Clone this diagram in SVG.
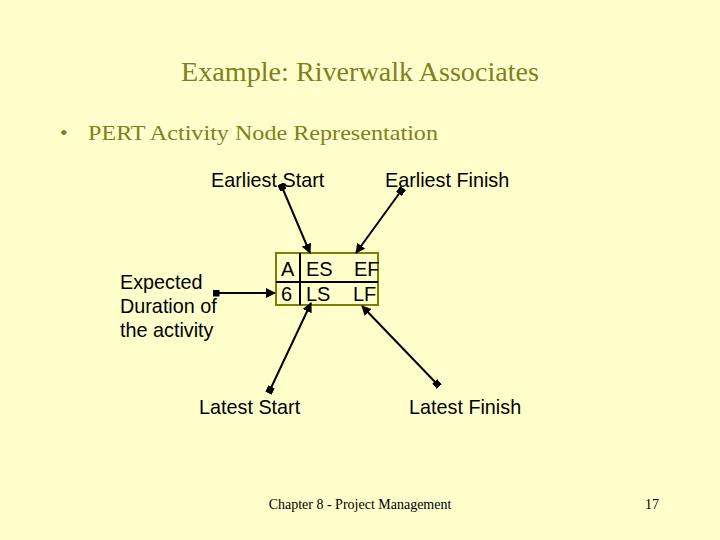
<svg xmlns="http://www.w3.org/2000/svg" width="720" height="540" viewBox="0 0 720 540">
<style>
.title{font-family:"Liberation Serif","Times New Roman",serif;fill:#808020}
.lbl{font-family:"Liberation Sans",Arial,sans-serif;font-size:19.8px;fill:#000}
.box{font-family:"Liberation Sans",Arial,sans-serif;font-size:20px;fill:#000}
.foot{font-family:"Liberation Serif","Times New Roman",serif;font-size:14px;fill:#000}
.conn{stroke:#000;stroke-width:2;fill:none;marker-start:url(#sq);marker-end:url(#arr)}
</style>
<defs>
<marker id="arr" viewBox="0 0 10 10" refX="9" refY="5" markerWidth="5" markerHeight="5" orient="auto" markerUnits="strokeWidth">
<path d="M0,0 L10,5 L0,10 z" fill="#000"/>
</marker>
<marker id="sq" viewBox="0 0 10 10" refX="5" refY="5" markerWidth="3.5" markerHeight="3.5" orient="auto" markerUnits="strokeWidth">
<rect x="0" y="0" width="10" height="10" fill="#000"/>
</marker>
</defs>
<rect width="720" height="540" fill="#FFFFCC"/>
<g id="title">
<text class="title" x="181" y="81" font-size="27" textLength="358" lengthAdjust="spacingAndGlyphs">Example: Riverwalk Associates</text>
</g>
<g id="bullet">
<text class="title" x="60" y="140" font-size="22">•</text>
<text class="title" x="88" y="140" font-size="22" textLength="350" lengthAdjust="spacingAndGlyphs">PERT Activity Node Representation</text>
</g>
<g id="node">
<rect x="276" y="253" width="102" height="52" fill="none" stroke="#808000" stroke-width="2"/>
<line x1="300" y1="253" x2="300" y2="305" stroke="#000" stroke-width="2"/>
<line x1="276" y1="282" x2="378" y2="282" stroke="#000" stroke-width="2"/>
<text class="box" x="281" y="276">A</text>
<text class="box" x="306" y="276">ES</text>
<text class="box" x="354" y="276">EF</text>
<text class="box" x="281" y="301">6</text>
<text class="box" x="306" y="301">LS</text>
<text class="box" x="353" y="301">LF</text>
</g>
<g id="label-es"><text class="lbl" x="211" y="187">Earliest Start</text></g>
<g id="label-ef"><text class="lbl" x="385" y="187">Earliest Finish</text></g>
<g id="label-dur">
<text class="lbl" x="120" y="289">Expected</text>
<text class="lbl" x="120" y="313">Duration of</text>
<text class="lbl" x="120" y="337">the activity</text>
</g>
<g id="label-ls"><text class="lbl" x="199" y="414">Latest Start</text></g>
<g id="label-lf"><text class="lbl" x="409" y="414">Latest Finish</text></g>
<g id="connectors">
<line class="conn" x1="282" y1="187" x2="310" y2="253"/>
<line class="conn" x1="401" y1="191" x2="356" y2="253"/>
<line class="conn" x1="216" y1="293" x2="275" y2="293"/>
<line class="conn" x1="270" y1="390" x2="311" y2="303"/>
<line class="conn" x1="437" y1="384" x2="362" y2="306"/>
</g>
<g id="footer">
<text class="foot" x="360" y="509" text-anchor="middle">Chapter 8 - Project Management</text>
<text class="foot" x="652" y="509" text-anchor="middle">17</text>
</g>
</svg>
